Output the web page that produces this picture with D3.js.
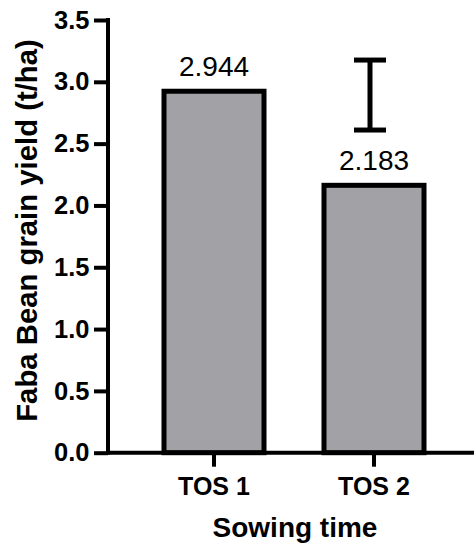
<!DOCTYPE html>
<html>
<head>
<meta charset="utf-8">
<script src="https://cdn.jsdelivr.net/npm/d3@7/dist/d3.min.js"></script>
<style>
  html, body { margin: 0; padding: 0; background: #fff; }
  svg { display: block; }
  text { font-family: "Liberation Sans", Arial, Helvetica, sans-serif; }
</style>
</head>
<body>
<svg id="chart" width="474" height="547"></svg>
<script>
const categories = ["TOS 1", "TOS 2"];
const yieldValues = [2.944, 2.183];
const valueLabels = ["2.944", "2.183"];
const errorLow = [null, 2.61];
const errorHigh = [null, 3.176];
const yTicks = [0.0, 0.5, 1.0, 1.5, 2.0, 2.5, 3.0, 3.5];
const xTitle = "Sowing time";
const yTitle = "Faba Bean grain yield (t/ha)";

const svg = d3.select("#chart");
const axisX = 108, plotBottom = 452.7, plotTop = 20;
const sw = 5;

const y = d3.scaleLinear().domain([0, 3.5]).range([plotBottom, plotTop]);
const x = d3.scaleBand().domain(categories).range([134, 454])
  .paddingInner(0.34375).paddingOuter(0.171875);

// bars (border drawn inside the bar outline)
svg.selectAll("rect.bar").data(categories).enter().append("rect")
  .attr("class", "bar")
  .attr("x", d => x(d) + sw / 2)
  .attr("y", (d, i) => y(yieldValues[i]) + sw / 2)
  .attr("width", x.bandwidth() - sw)
  .attr("height", (d, i) => y(0) - y(yieldValues[i]) - sw / 2)
  .attr("fill", "#a2a1a6")
  .attr("stroke", "#000")
  .attr("stroke-width", sw);

// value labels
svg.selectAll("text.val").data(categories).enter().append("text")
  .attr("class", "val")
  .attr("x", d => x(d) + x.bandwidth() / 2)
  .attr("y", (d, i) => y(yieldValues[i]) - 13)
  .attr("text-anchor", "middle")
  .attr("font-size", 28)
  .attr("fill", "#000")
  .text((d, i) => valueLabels[i]);

// error bar
categories.forEach((c, i) => {
  if (errorLow[i] == null) return;
  const cx = x(c) + x.bandwidth() / 2 - 4;
  const g = svg.append("g").attr("stroke", "#000").attr("stroke-width", sw);
  g.append("line").attr("x1", cx).attr("x2", cx).attr("y1", y(errorLow[i])).attr("y2", y(errorHigh[i]));
  g.append("line").attr("x1", cx - 16).attr("x2", cx + 16).attr("y1", y(errorLow[i])).attr("y2", y(errorLow[i]));
  g.append("line").attr("x1", cx - 16).attr("x2", cx + 16).attr("y1", y(errorHigh[i])).attr("y2", y(errorHigh[i]));
});

// y axis
const yAxis = d3.axisLeft(y).tickValues(yTicks).tickFormat(d3.format(".1f")).tickSize(14).tickPadding(4.5);
const gy = svg.append("g").attr("transform", `translate(${axisX},0)`).call(yAxis);
gy.select(".domain").attr("stroke", "#000").attr("stroke-width", 4).attr("d", `M0,${plotTop - 2}V${plotBottom + 2}`);
gy.selectAll(".tick line").attr("stroke", "#000").attr("stroke-width", 4);
gy.selectAll(".tick text").attr("font-size", 25.5).attr("font-weight", "bold").attr("fill", "#000")
  .style("font-family", "'Liberation Sans', Arial, sans-serif");

// x axis
const xAxis = d3.axisBottom(x).tickSize(14).tickPadding(11);
const gx = svg.append("g").attr("transform", `translate(0,${plotBottom})`).call(xAxis);
gx.select(".domain").attr("stroke", "#000").attr("stroke-width", 4).attr("d", `M${axisX - 2},0H474`);
gx.selectAll(".tick line").attr("stroke", "#000").attr("stroke-width", 4);
gx.selectAll(".tick text").attr("font-size", 25).attr("font-weight", "bold").attr("fill", "#000")
  .style("font-family", "'Liberation Sans', Arial, sans-serif");

// titles
svg.append("text").attr("x", 295).attr("y", 537).attr("text-anchor", "middle")
  .attr("font-size", 28).attr("font-weight", "bold").text(xTitle);
svg.append("text").attr("transform", "translate(37,230.5) rotate(-90)").attr("text-anchor", "middle")
  .attr("font-size", 29.3).attr("font-weight", "bold").text(yTitle);
</script>
</body>
</html>
